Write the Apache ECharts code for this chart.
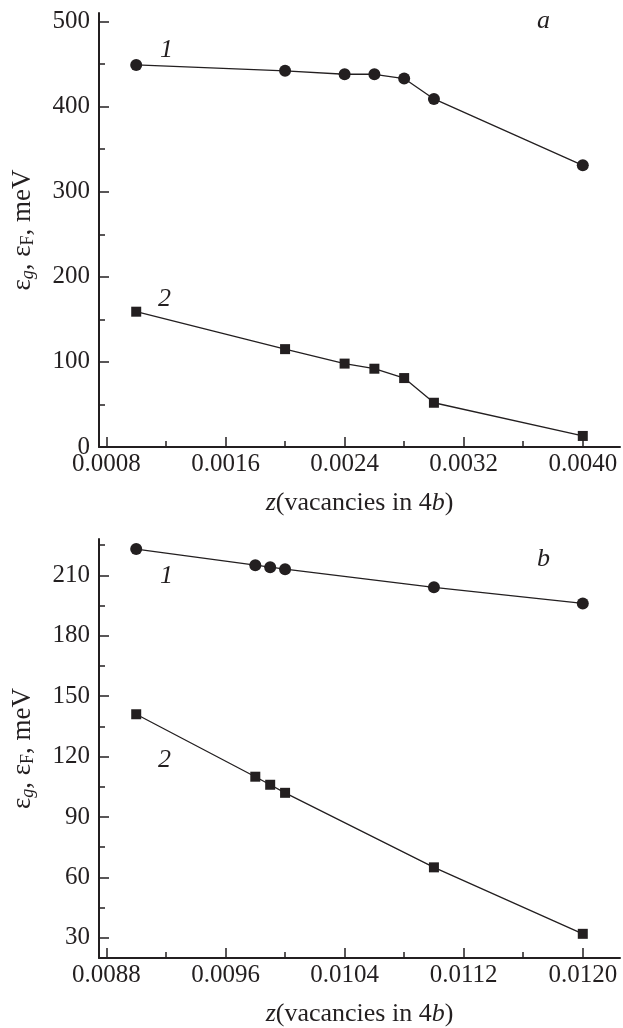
<!DOCTYPE html>
<html>
<head>
<meta charset="utf-8">
<script src="https://cdn.jsdelivr.net/npm/echarts@6/dist/echarts.min.js"></script>
<style>
  html, body { margin: 0; padding: 0; background: #fff; }
  #chart { width: 623px; height: 1028px; }
</style>
</head>
<body>
<div id="chart"></div>
<script>
// panel a
var zTop = [0.0010, 0.0020, 0.0024, 0.0026, 0.0028, 0.0030, 0.0040]
var gapTop = [449, 442, 438, 438, 433, 409, 331]
var fermiTop = [159, 115, 98, 92, 81, 52, 13]
var topXMajor = [0.0008, 0.0016, 0.0024, 0.0032, 0.0040]
var topXMinor = [0.0012, 0.0020, 0.0028, 0.0036]
var topYMajor = [0, 100, 200, 300, 400, 500]
var topYMinor = [50, 150, 250, 350, 450]

// panel b
var zBottom = [0.0090, 0.0098, 0.0099, 0.0100, 0.0110, 0.0120]
var gapBottom = [223, 215, 214, 213, 204, 196]
var fermiBottom = [141, 110, 106, 102, 65, 32]
var bottomXMajor = [0.0088, 0.0096, 0.0104, 0.0112, 0.0120]
var bottomXMinor = [0.0092, 0.0100, 0.0108, 0.0116]
var bottomYMajor = [30, 60, 90, 120, 150, 180, 210]
var bottomYMinor = [45, 75, 105, 135, 165, 195, 225]

var ink = '#231f20'
var font = 'Liberation Serif'

var xName = '{i|z}(vacancies in 4{i|b})'
var yName = 'ε{subi|g}, ε{sub|F}, meV'
var nameRich = {
  i: { fontStyle: 'italic', fontFamily: font, fontSize: 26, color: ink },
  sub: { fontFamily: font, fontSize: 18, color: ink, padding: [11, 0, 0, 0] },
  subi: { fontFamily: font, fontStyle: 'italic', fontSize: 18, color: ink, padding: [11, 0, 0, 0] }
}

function xAxes(grid, min, max, major, minor) {
  return [{
    type: 'value', gridIndex: grid, min: min, max: max, position: 'bottom',
    name: xName, nameLocation: 'middle', nameGap: 43,
    nameTextStyle: { fontFamily: font, fontSize: 26, color: ink, rich: nameRich },
    axisLine: { onZero: false, lineStyle: { color: ink, width: 2 } },
    axisTick: { inside: true, length: 10, customValues: major, lineStyle: { color: ink, width: 1.5 } },
    axisLabel: { customValues: major, fontFamily: font, fontSize: 25, color: ink, margin: 5,
      formatter: function (v) { return v.toFixed(4) } },
    splitLine: { show: false }
  }, {
    type: 'value', gridIndex: grid, min: min, max: max, position: 'bottom',
    axisLine: { show: false },
    axisTick: { inside: true, length: 6, customValues: minor, lineStyle: { color: ink, width: 1.5 } },
    axisLabel: { show: false },
    splitLine: { show: false }
  }]
}

function yAxes(grid, min, max, major, minor) {
  return [{
    type: 'value', gridIndex: grid, min: min, max: max, position: 'left',
    name: yName, nameLocation: 'middle', nameGap: 62, nameRotate: 90,
    nameTextStyle: { fontFamily: font, fontSize: 27, color: ink, rich: nameRich },
    axisLine: { show: true, onZero: false, lineStyle: { color: ink, width: 2 } },
    axisTick: { inside: true, length: 10, customValues: major, lineStyle: { color: ink, width: 1.5 } },
    axisLabel: { customValues: major, fontFamily: font, fontSize: 25, color: ink, margin: 9 },
    splitLine: { show: false }
  }, {
    type: 'value', gridIndex: grid, min: min, max: max, position: 'left',
    axisLine: { show: false },
    axisTick: { inside: true, length: 6, customValues: minor, lineStyle: { color: ink, width: 1.5 } },
    axisLabel: { show: false },
    splitLine: { show: false }
  }]
}

function line(xs, ys, grid, symbol, size) {
  return {
    type: 'line',
    xAxisIndex: grid * 2,
    yAxisIndex: grid * 2,
    data: xs.map(function (x, i) { return [x, ys[i]] }),
    symbol: symbol,
    symbolSize: size,
    showAllSymbol: true,
    lineStyle: { color: ink, width: 1.3 },
    itemStyle: { color: ink, borderWidth: 0 },
    animation: false
  }
}

function label(text, x, y) {
  return {
    type: 'text', left: x, top: y,
    style: { text: text, fontFamily: font, fontStyle: 'italic', fontSize: 26, fill: ink }
  }
}

var chart = echarts.init(document.getElementById('chart'))
chart.setOption({
  backgroundColor: '#fff',
  animation: false,
  grid: [
    { left: 99, right: 3, top: 13, height: 434 },
    { left: 99, right: 3, top: 539, height: 422 }
  ],
  xAxis: xAxes(0, 0.00075, 0.00425, topXMajor, topXMinor)
    .concat(xAxes(1, 0.00875, 0.01225, bottomXMajor, bottomXMinor)),
  yAxis: yAxes(0, 0, 510, topYMajor, topYMinor)
    .concat(yAxes(1, 20, 228, bottomYMajor, bottomYMinor)),
  series: [
    line(zTop, gapTop, 0, 'circle', 12),
    line(zTop, fermiTop, 0, 'rect', 10),
    line(zBottom, gapBottom, 1, 'circle', 12),
    line(zBottom, fermiBottom, 1, 'rect', 10)
  ],
  graphic: [
    label('1', 160, 37),
    label('2', 158, 286),
    label('a', 537, 8),
    label('1', 160, 563),
    label('2', 158, 747),
    label('b', 537, 546)
  ]
})
</script>
</body>
</html>
